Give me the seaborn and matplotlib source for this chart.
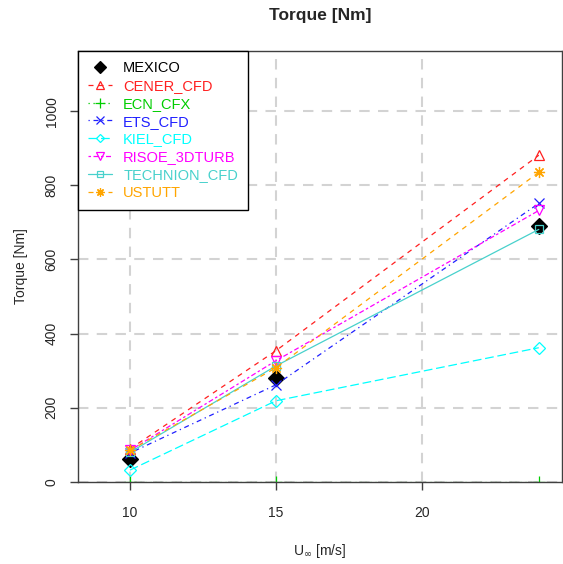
import matplotlib
matplotlib.use("Agg")
import matplotlib.pyplot as plt
import pandas as pd
import seaborn as sns

wind_speed = [10, 15, 24]
mexico = [62, 281, 689]
cener_cfd = [89, 354, 881]
ecn_cfx = [0, 0, 0]
ets_cfd = [78, 262, 751]
kiel_cfd = [32, 219, 362]
risoe_3dturb = [85, 327, 732]
technion_cfd = [80, 313, 681]
ustutt = [85, 308, 835]

series_names = ["MEXICO", "CENER_CFD", "ECN_CFX", "ETS_CFD", "KIEL_CFD",
                "RISOE_3DTURB", "TECHNION_CFD", "USTUTT"]
series_values = [mexico, cener_cfd, ecn_cfx, ets_cfd, kiel_cfd,
                 risoe_3dturb, technion_cfd, ustutt]

x_ticks = [10, 15, 20]
y_ticks = [0, 200, 400, 600, 800, 1000]

STYLES = {
    "MEXICO": dict(color="black", marker="D", ls="none", ms=8, mfc="black"),
    "CENER_CFD": dict(color="#FF2020", marker="^", ls=(0, (4, 4)), ms=7, mfc="none"),
    "ECN_CFX": dict(color="#00CD00", marker="+", ls=(0, (1, 3)), ms=9, mfc="none"),
    "ETS_CFD": dict(color="#2020FF", marker="x", ls=(0, (1, 3, 4, 3)), ms=7, mfc="none"),
    "KIEL_CFD": dict(color="#00FFFF", marker="D", ls=(0, (7, 3)), ms=6, mfc="none"),
    "RISOE_3DTURB": dict(color="#FF00FF", marker="v", ls=(0, (2, 2, 4, 2)), ms=7, mfc="none"),
    "TECHNION_CFD": dict(color="#48D1CC", marker="s", ls="-", ms=6, mfc="none"),
    "USTUTT": dict(color="#FFA500", marker=(8, 2, 0), ls=(0, (4, 4)), ms=8, mfc="none"),
}

rows = []
for name, vals in zip(series_names, series_values):
    for x, y in zip(wind_speed, vals):
        rows.append({"series": name, "U": x, "torque": y})
df = pd.DataFrame(rows)

sns.set_style("white")
plt.rcParams["font.family"] = ["Liberation Sans", "DejaVu Sans"]

fig = plt.figure(figsize=(5.63, 5.64), dpi=100)
ax = fig.add_axes([0.1385, 0.1454, 0.8595, 0.7642])

ax.grid(True, color="#D3D3D3", ls=(0, (5, 4)), lw=1.5)
ax.set_axisbelow(True)

for name in series_names:
    st = STYLES[name]
    sns.lineplot(data=df[df["series"] == name], x="U", y="torque", ax=ax,
                 color=st["color"], marker=st["marker"], linestyle=st["ls"],
                 markersize=st["ms"], markerfacecolor=st["mfc"],
                 markeredgecolor=st["color"], markeredgewidth=0.9,
                 lw=0.9, label=name, errorbar=None)

ax.set_xlim(8.22, 24.79)
ax.set_ylim(0, 1162)
ax.set_xticks(x_ticks)
ax.set_yticks(y_ticks)
ax.set_yticklabels([str(v) for v in y_ticks], rotation=90, va="center")
ax.tick_params(axis="both", direction="out", length=6, width=1, color="#404040",
               labelsize=10, bottom=True, left=True)
ax.tick_params(axis="x", pad=11)
ax.tick_params(axis="y", pad=8)
for sp in ax.spines.values():
    sp.set_color("#404040")
    sp.set_linewidth(1)

ax.set_xlabel(r"U$_\infty$ [m/s]", fontsize=10, labelpad=16)
ax.set_ylabel("Torque [Nm]", fontsize=10, labelpad=12)
ax.set_title("Torque [Nm]", fontsize=12.5, fontweight="bold", pad=22)

leg = ax.legend(loc="upper left", borderaxespad=0, fancybox=False, framealpha=1,
                edgecolor="black", fontsize=10.5, handlelength=1.6, labelspacing=0.26,
                borderpad=0.7, handletextpad=0.8, markerscale=0.75)
leg.get_frame().set_linewidth(1)
for text, name in zip(leg.get_texts(), series_names):
    text.set_color(STYLES[name]["color"])

fig.savefig("out.png", dpi=100)
